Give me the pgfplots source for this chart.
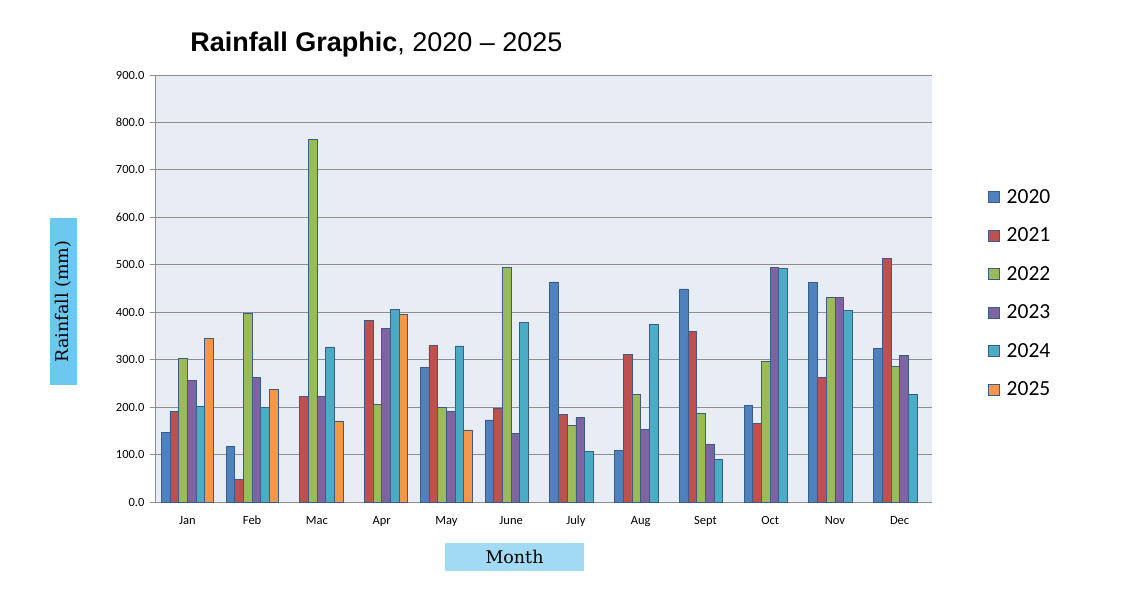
\documentclass[border=0pt]{standalone}
\usepackage{pgfplots}
\pgfplotsset{compat=1.18}
\usepackage{fontspec}
\setmainfont{Carlito}
\newfontfamily\titlefont{Liberation Sans}
\newfontfamily\labelfont{DejaVu Serif}

\definecolor{c2020}{HTML}{4F81BD}
\definecolor{c2021}{HTML}{C0504D}
\definecolor{c2022}{HTML}{9BBB59}
\definecolor{c2023}{HTML}{8064A2}
\definecolor{c2024}{HTML}{4BACC6}
\definecolor{c2025}{HTML}{F79646}
\definecolor{barline}{HTML}{385D8A}
\definecolor{plotbg}{HTML}{E8ECF4}
\definecolor{gridc}{HTML}{8E8E8E}
\definecolor{ylabbg}{HTML}{6CC8EE}
\definecolor{xlabbg}{HTML}{A2D9F3}

\begin{document}
\begin{tikzpicture}
\useasboundingbox (0pt,0pt) rectangle (1130pt,600pt);
\begin{axis}[
    at={(155pt,98pt)}, anchor=south west,
    scale only axis,
    width=777pt, height=427pt,
    ybar=0pt, bar width=8.7pt,
    xmin=-0.5, xmax=11.5,
    ymin=0, ymax=900,
    xtick={0,...,11},
    xticklabels={Jan,Feb,Mac,Apr,May,June,July,Aug,Sept,Oct,Nov,Dec},
    ytick={0,100,...,900},
    /pgf/number format/assume math mode=true,
    yticklabel={\pgfmathprintnumber[fixed,fixed zerofill,precision=1]{\tick}},
    ticklabel style={font=\fontsize{12.5}{14}\selectfont},
    yticklabel style={xshift=-2pt},
    xticklabel style={yshift=-6pt, text height=8pt, text depth=2.5pt},
    xtick style={draw=none},
    ytick style={draw=gridc, line width=0.8pt},
    tick align=outside, major tick length=5pt,
    axis x line*=bottom, axis y line*=left,
    axis line style={draw=gridc, line width=0.8pt, -},
    ymajorgrids=true,
    grid style={draw=gridc, line width=0.9pt},
    axis background/.style={fill=plotbg},
    every axis plot/.append style={draw=barline, line width=0.7pt},
    title={{\bfseries Rainfall Graphic}, 2020 – 2025},
    title style={font=\titlefont\fontsize{27}{30}\selectfont,
        at={(axis description cs:0.285,1)}, anchor=center, yshift=24pt},
    xlabel={Month},
    xlabel style={font=\labelfont\fontsize{17.5}{19}\selectfont,
        at={(axis description cs:0.4627,0)}, anchor=center, yshift=-55pt,
        fill=xlabbg, minimum width=139pt, minimum height=28pt, inner sep=0pt},
    ylabel={Rainfall (mm)},
    ylabel style={font=\labelfont\fontsize{17.5}{19}\selectfont,
        at={(axis description cs:-0.1178,0.4696)}, anchor=center,
        fill=ylabbg, minimum width=167pt, minimum height=27pt, inner sep=0pt},
    legend cell align=left,
    legend style={at={(axis description cs:1.068,0.742)}, anchor=north west,
        draw=none, fill=none, font=\fontsize{21.5}{23}\selectfont,
        row sep=19pt, column sep=5pt},
    legend image code/.code={\draw[#1] (0pt,-5.5pt) rectangle (11pt,5.5pt);},
]
\addplot[fill=c2020] coordinates {
    (0,146) (1,117) (4,284) (5,173) (6,464) (7,109) (8,449) (9,204) (10,462) (11,324)};
\addlegendentry{2020}
\addplot[fill=c2021] coordinates {
    (0,191) (1,48) (2,223) (3,382) (4,330) (5,197) (6,185) (7,311) (8,360) (9,166) (10,263) (11,513)};
\addlegendentry{2021}
\addplot[fill=c2022] coordinates {
    (0,303) (1,398) (2,765) (3,206) (4,200) (5,495) (6,162) (7,226) (8,186) (9,297) (10,431) (11,286)};
\addlegendentry{2022}
\addplot[fill=c2023] coordinates {
    (0,257) (1,263) (2,223) (3,365) (4,191) (5,145) (6,178) (7,153) (8,121) (9,495) (10,431) (11,309)};
\addlegendentry{2023}
\addplot[fill=c2024] coordinates {
    (0,201) (1,200) (2,327) (3,405) (4,329) (5,378) (6,106) (7,375) (8,90) (9,493) (10,404) (11,226)};
\addlegendentry{2024}
\addplot[fill=c2025] coordinates {
    (0,345) (1,238) (2,171) (3,396) (4,152)};
\addlegendentry{2025}
\end{axis}
\end{tikzpicture}
\end{document}
